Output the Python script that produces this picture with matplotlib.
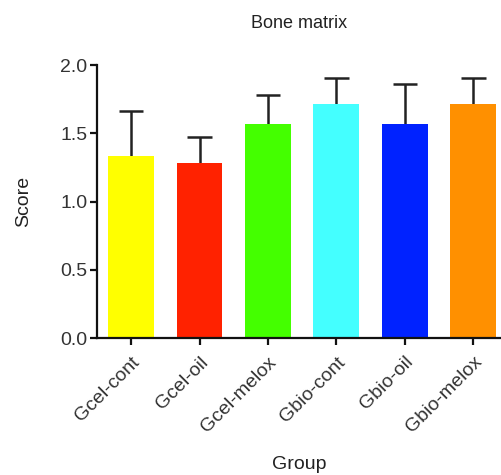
import matplotlib
matplotlib.use("Agg")
import matplotlib.pyplot as plt
import numpy as np

groups = ["Gcel-cont", "Gcel-oil", "Gcel-melox", "Gbio-cont", "Gbio-oil", "Gbio-melox"]
scores = [1.333, 1.286, 1.571, 1.714, 1.571, 1.714]
errors = [0.33, 0.19, 0.21, 0.19, 0.29, 0.19]
colors = ["#ffff00", "#ff2200", "#44ff00", "#44ffff", "#0022ff", "#ff9000"]

plt.rcParams["font.family"] = ["Liberation Sans", "DejaVu Sans"]

fig = plt.figure(figsize=(5.02, 4.75), dpi=100)
ax = fig.add_axes([0.193, 0.288, 0.807, 0.575])

x = np.arange(len(groups))
tops = np.array(scores) + np.array(errors)
ax.bar(x, scores, width=0.67, color=colors, zorder=2)
# upper error bars only (Prism style)
ax.vlines(x, scores, tops, color="#222222", linewidth=1.8, zorder=1)
ax.hlines(tops, x - 0.18, x + 0.18, color="#222222", linewidth=1.8, zorder=1)

ax.set_xlim(-0.5, 5.42)
ax.set_ylim(0, 2.0)
ax.set_yticks([0.0, 0.5, 1.0, 1.5, 2.0])
ax.set_yticklabels(["0.0", "0.5", "1.0", "1.5", "2.0"])
ax.set_xticks(x)
ax.set_xticklabels(groups, rotation=45, ha="right", rotation_mode="anchor")

for s in ["top", "right"]:
    ax.spines[s].set_visible(False)
for s in ["left", "bottom"]:
    ax.spines[s].set_linewidth(1.6)
    ax.spines[s].set_color("#111111")
ax.tick_params(direction="out", length=5, width=1.6, colors="#111111",
               labelsize=14, labelcolor="#333333")
ax.tick_params(axis="x", pad=6)
ax.tick_params(axis="y", pad=2)

ax.set_title("Bone matrix", fontsize=13, color="#222222", pad=27)
ax.set_ylabel("Score", fontsize=14, color="#222222", labelpad=20)
ax.set_xlabel("Group", fontsize=14, color="#222222", labelpad=14)

fig.savefig("out.png", dpi=100)
